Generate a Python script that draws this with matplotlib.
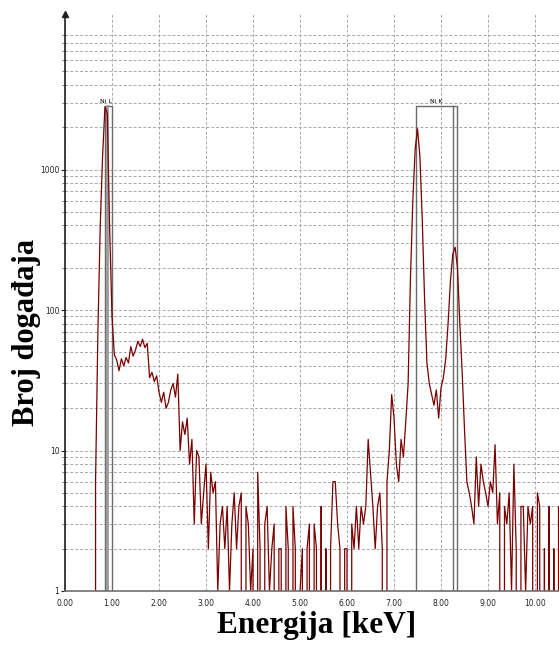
import numpy as np
import matplotlib.pyplot as plt
from matplotlib.ticker import FixedLocator, NullFormatter

# EDS spectrum, channel width 0.05 keV starting at 0 keV
kev_step = 0.05
counts_low = [0, 0, 0, 0, 0, 0, 0, 0, 0, 0, 0, 0, 0,          # 0.00 - 0.60
              6, 70, 400, 1250, 2800, 2500, 380, 90, 48,       # Ni L peak
              44, 37, 45, 40, 46, 42, 55, 47, 52, 60, 55, 62, 54, 58,
              33, 36, 31, 34, 26, 22, 26, 20, 22, 27, 30, 24, 35,
              10, 16, 13, 17, 8, 12, 3, 10, 9, 3, 5, 8, 2, 7, 5, 6]   # -> 3.20
counts_mid = [1, 3, 4, 2, 4, 1, 3, 5, 2, 4, 5, 0, 4, 3, 1, 2, 0, 7, 2, 0,
              3, 4, 1, 2, 3, 0, 2, 2, 0, 4, 2, 0, 4, 2, 0, 1, 2, 0, 2, 3, 0,
              3, 2, 0, 4, 0, 2, 0, 2, 6, 6, 3, 2, 0, 2, 2, 0, 3, 2, 4, 2, 4,
              3, 4, 12, 7, 4, 2, 4, 5, 2, 0, 6, 10, 25, 17, 8, 6, 12, 9, 16, 30]  # 3.25 - 7.30
counts_nik = [170, 600, 1400, 1950, 1250, 450, 120, 42, 30, 25, 21, 27, 17,
              28, 33, 45, 80, 160, 250, 280, 200, 80, 36, 14]   # 7.35 - 8.50
counts_high = [6, 5, 4, 3, 9, 4, 8, 6, 5, 4, 6, 5, 11, 3, 5, 0, 4, 3, 5, 1,
               8, 2, 0, 4, 4, 1, 4, 3, 4, 0, 5, 4, 0, 2, 0, 4, 0, 2, 0, 4, 3]  # 8.55 - 10.55

counts = np.array(counts_low + counts_mid + counts_nik + counts_high, dtype=float)
energy = np.arange(len(counts)) * kev_step

# marked element windows (keV)
ni_l_window = [0.845, 1.00]
ni_l_inner = 0.885
ni_k_window = [7.465, 8.345]
ni_k_inner = 8.26
window_top = 2830

x_ticks = list(range(0, 11))
x_labels = ["%.2f" % v for v in x_ticks]
y_major = [1, 10, 100, 1000]
y_minor = [m * 10 ** k for k in range(4) for m in range(2, 10)]

W, H = 559, 646
fig = plt.figure(figsize=(W / 100, H / 100), dpi=100)
ax = fig.add_axes([65 / W, 55 / H, 1 - 65 / W, (591 - 14) / H])

ax.set_yscale("log")
ax.set_xlim(0, 10.51)
ax.set_ylim(1, 12800)

ax.yaxis.set_major_locator(FixedLocator(y_major))
ax.yaxis.set_minor_locator(FixedLocator(y_minor))
ax.yaxis.set_minor_formatter(NullFormatter())
ax.set_yticklabels([str(v) for v in y_major])
ax.set_xticks(x_ticks)
ax.set_xticklabels(x_labels)

grid_kw = dict(color="#a8a8a8", lw=0.7, ls=(0, (3, 2)))
ax.grid(which="both", axis="y", **grid_kw)
ax.grid(which="major", axis="x", **grid_kw)
ax.set_axisbelow(True)

ax.tick_params(axis="x", length=0, labelsize=5.5, pad=6, colors="#222222")
ax.tick_params(axis="y", which="major", length=3, labelsize=5.5, pad=1, colors="#222222")
ax.tick_params(axis="y", which="minor", length=2, colors="#666666")

for s in ["top", "right"]:
    ax.spines[s].set_visible(False)
ax.spines["left"].set_color("#202020")
ax.spines["left"].set_linewidth(1.2)
ax.spines["bottom"].set_color("#707070")
ax.spines["bottom"].set_linewidth(1.2)
ax.plot([0], [12800], marker="^", color="#202020", ms=4, clip_on=False)

# element windows
box_c = "#6a6a6a"
ax.plot([ni_l_window[0], ni_l_window[0], ni_l_window[1], ni_l_window[1]],
        [1, window_top, window_top, 1], color=box_c, lw=1.0)
ax.plot([ni_l_inner, ni_l_inner], [1, window_top], color="#9a9a9a", lw=2.0)
ax.plot([ni_k_window[0], ni_k_window[0], ni_k_window[1], ni_k_window[1]],
        [1, window_top, window_top, 1], color=box_c, lw=1.0)
ax.plot([ni_k_inner, ni_k_inner], [1, window_top], color=box_c, lw=1.0)
ax.text(sum(ni_l_window) / 2 - 0.04, window_top * 1.03, "Ni L", fontsize=4.5,
        ha="center", va="bottom")
ax.text(sum(ni_k_window) / 2, window_top * 1.03, "Ni K", fontsize=4.5,
        ha="center", va="bottom")

ax.plot(energy, counts, color="#7a0000", lw=0.9)

fig.text(317 / W, 1 - 625 / H, "Energija [keV]", family="Liberation Serif",
         weight="bold", fontsize=22.5, ha="center", va="center")
fig.text(27 / W, 1 - 332 / H, "Broj događaja", family="Liberation Serif",
         weight="bold", fontsize=22, ha="center", va="center", rotation=90)

fig.savefig("out.png", dpi=100)
